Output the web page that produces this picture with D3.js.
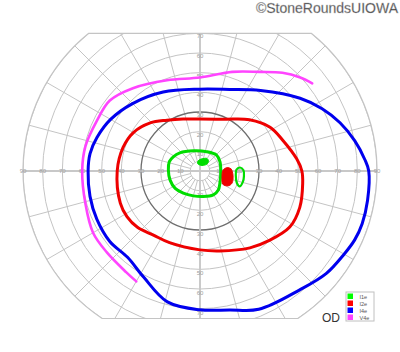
<!DOCTYPE html>
<html>
<head>
<meta charset="utf-8">
<script src="https://cdn.jsdelivr.net/npm/d3@7"></script>
<style>
  html, body { margin: 0; padding: 0; background: #fff; }
  svg { display: block; font-family: "Liberation Sans", Arial, sans-serif; }
</style>
</head>
<body>
<svg id="chart"></svg>
<script>
// points are [meridian in degrees, counter-clockwise from the right, eccentricity in degrees]
const isopterI4e = [[0, 85.8], [4, 84.0], [11, 80.2], [19, 75.3], [27, 69.7], [36, 62.9], [53, 51.2], [70, 44.1],
  [90, 41.6], [115, 44.3], [135, 48.5], [150, 52.5], [162, 55.1], [171, 56.6], [180, 56.9], [193, 57.4],
  [205, 57.9], [218, 58.2], [230, 57.3], [242, 61.1], [256, 68.6], [270, 70.6], [282, 72.2], [293, 76.4],
  [310, 78.9], [321, 82.7], [330, 84.6], [336, 86.1], [342, 86.7], [350, 86.5]];
const isopterI2e = [[0, 51.8], [7, 49.6], [20, 45.0], [32, 42.0], [46, 36.2], [64, 29.3], [90, 26.4],
  [108, 27.8], [123, 30.8], [136, 35.2], [150, 39.1], [163, 40.9], [180, 42.1], [202, 43.7], [212, 43.8],
  [222, 42.8], [234, 40.3], [247, 39.6], [270, 40.1], [284, 41.9], [303, 46.6], [315, 49.9], [328, 53.8],
  [340, 54.0], [353, 52.6]];
const isopterI1e = [[25, 11.2], [44, 11.7], [71, 10.4], [108, 10.8], [138, 13.8], [152, 15.4], [163, 16.3],
  [178, 16.1], [197, 15.9], [215, 15.4], [233, 14.1], [255, 13.1], [277, 13.1], [299, 13.9], [314, 13.4],
  [328, 11.9], [354, 10.6]];
const isopterV4e = [[38, 72.4], [43, 69.7], [50, 65.2], [59, 58.8], [72, 53.0], [90, 47.5], [110, 49.1],
  [129, 54.2], [142, 58.2], [154, 58.3], [168, 59.6], [180, 59.9], [196, 60.6], [210, 62.8], [221, 62.9],
  [234, 63.7], [240, 64.8]];
const scotomaI2e = [[7, 13.8], [4, 15.8], [353, 16.9], [339, 17.4], [332, 16.1], [330, 13.4], [345, 11.6], [2, 11.7]];
const scotomaI1e = [[95, 5.6], [76, 6.5], [61, 7.3], [50, 6.7], [45, 5.0], [70, 3.0], [106, 3.7], [105, 4.7]];
const islandI1e = [[5, 20.4], [1, 22.1], [353, 22.5], [346, 22.5], [339, 21.7], [342, 19.7], [352, 18.4], [2, 18.5]];

const ringDegrees = [5, 10, 20, 30, 40, 50, 60, 70, 80, 90];
const meridianDegrees = [0, 15, 30, 45, 60, 75, 90, 105, 120, 135, 150, 165, 180, 195, 210, 225, 240, 255, 270, 285, 300, 315, 330, 345];
const horizontalTicks = [10, 20, 30, 40, 50, 60, 70, 80, 90];
const verticalTicks = [10, 20, 30, 40, 50, 60, 70];

const legendNames = ['I1e', 'I2e', 'I4e', 'V4e'];
const legendColors = ['#00ff00', '#ff0000', '#0000ff', '#ff44ff'];

const width = 400;
const height = 352;
const cx = 200;
const cy = 171;
const topLimit = 70;
const bottomLimit = 75;

const r = d3.scaleLinear().domain([0, 90]).range([0, 177]);
const rad = a => (90 - a) * Math.PI / 180;

const svg = d3.select('#chart').attr('width', width).attr('height', height);
const g = svg.append('g').attr('transform', `translate(${cx},${cy})`);

// outline of the field: circle of 90 cut flat at top and bottom
const R = r(90);
const yt = -r(topLimit);
const yb = r(bottomLimit);
const wt = Math.sqrt(R * R - yt * yt);
const wb = Math.sqrt(R * R - yb * yb);
const outline = d3.path();
outline.moveTo(-wt, yt);
outline.lineTo(wt, yt);
outline.arc(0, 0, R, Math.atan2(yt, wt), Math.atan2(yb, wb), false);
outline.lineTo(-wb, yb);
outline.arc(0, 0, R, Math.atan2(yb, -wb), Math.atan2(yt, -wt) + 2 * Math.PI, false);
outline.closePath();

svg.append('defs').append('clipPath').attr('id', 'field')
  .append('path').attr('d', outline.toString());

const grid = g.append('g').attr('clip-path', 'url(#field)');

grid.selectAll('line.meridian').data(meridianDegrees).enter().append('line')
  .attr('class', 'meridian')
  .attr('x1', d => r(5) * Math.cos(d * Math.PI / 180))
  .attr('y1', d => -r(5) * Math.sin(d * Math.PI / 180))
  .attr('x2', d => r(100) * Math.cos(d * Math.PI / 180))
  .attr('y2', d => -r(100) * Math.sin(d * Math.PI / 180))
  .attr('stroke', '#c4c4c4')
  .attr('stroke-width', 1);

grid.selectAll('circle.ring').data(ringDegrees).enter().append('circle')
  .attr('class', 'ring')
  .attr('r', d => r(d))
  .attr('fill', 'none')
  .attr('stroke', d => d === 30 ? '#6e6e6e' : '#c4c4c4')
  .attr('stroke-width', d => d === 30 ? 1.3 : 1);

// main axes
grid.append('line').attr('x1', -R).attr('x2', R).attr('y1', 0).attr('y2', 0)
  .attr('stroke', '#c8c8c8').attr('stroke-width', 1.8);
grid.append('line').attr('x1', 0).attr('x2', 0).attr('y1', yt).attr('y2', yb)
  .attr('stroke', '#c8c8c8').attr('stroke-width', 1.8);

g.append('path').attr('d', outline.toString())
  .attr('fill', 'none').attr('stroke', '#c4c4c4').attr('stroke-width', 1.2);

// tick labels along the axes
const ticks = g.append('g')
  .attr('font-size', 6)
  .attr('fill', '#a0a0a0')
  .attr('text-anchor', 'middle')
  .attr('dominant-baseline', 'central');

ticks.selectAll('text.left').data(horizontalTicks).enter().append('text')
  .attr('x', d => -r(d)).attr('y', 0).text(d => d);
ticks.selectAll('text.right').data(horizontalTicks).enter().append('text')
  .attr('x', d => r(d)).attr('y', 0).text(d => d);
ticks.selectAll('text.up').data(verticalTicks).enter().append('text')
  .attr('x', 0).attr('y', d => -r(d) + 3).text(d => d);
ticks.selectAll('text.down').data(verticalTicks).enter().append('text')
  .attr('x', 0).attr('y', d => r(d) + 4).text(d => d);

// isopters
const closed = d3.lineRadial()
  .angle(d => rad(d[0]))
  .radius(d => r(d[1]))
  .curve(d3.curveCatmullRomClosed.alpha(0.5));
const open = d3.lineRadial()
  .angle(d => rad(d[0]))
  .radius(d => r(d[1]))
  .curve(d3.curveCatmullRom.alpha(0.5));

const marks = g.append('g').attr('fill', 'none').attr('stroke-width', 3)
  .attr('stroke-linejoin', 'round').attr('stroke-linecap', 'round');

marks.append('path').attr('d', open(isopterV4e)).attr('stroke', '#ff44ff').attr('stroke-width', 2.6);
marks.append('path').attr('d', closed(isopterI4e)).attr('stroke', '#0000ee');
marks.append('path').attr('d', closed(isopterI2e)).attr('stroke', '#ee0000');
marks.append('path').attr('d', closed(isopterI1e)).attr('stroke', '#00dd00');
marks.append('path').attr('d', closed(islandI1e)).attr('stroke', '#00dd00').attr('stroke-width', 2.2);
marks.append('path').attr('d', closed(scotomaI2e)).attr('stroke', '#ee0000').attr('fill', '#ee0000').attr('stroke-width', 1);
marks.append('path').attr('d', closed(scotomaI1e)).attr('stroke', '#00dd00').attr('fill', '#00dd00').attr('stroke-width', 1);

// legend
const legend = svg.append('g').attr('transform', 'translate(346,292)');
legend.append('rect').attr('width', 28).attr('height', 29)
  .attr('fill', '#fff').attr('stroke', '#c0c0c0').attr('stroke-width', 1);
const item = legend.selectAll('g.item').data(legendNames).enter().append('g')
  .attr('class', 'item')
  .attr('transform', (d, i) => `translate(1.5,${1.5 + i * 7})`);
item.append('rect').attr('width', 5.5).attr('height', 5.5)
  .attr('fill', (d, i) => legendColors[i]);
item.append('text').attr('x', 12).attr('y', 3)
  .attr('dominant-baseline', 'central')
  .attr('font-size', 5.5).attr('fill', '#555').text(d => d);

svg.append('text').attr('x', 322).attr('y', 322)
  .attr('font-size', 12).attr('fill', '#333').text('OD');

svg.append('text').attr('x', 398).attr('y', 13)
  .attr('text-anchor', 'end')
  .attr('font-size', 14).attr('fill', '#3a3a3a')
  .attr('stroke', '#bbb').attr('stroke-width', 0.4)
  .text('\u00a9StoneRoundsUIOWA');
</script>
</body>
</html>
